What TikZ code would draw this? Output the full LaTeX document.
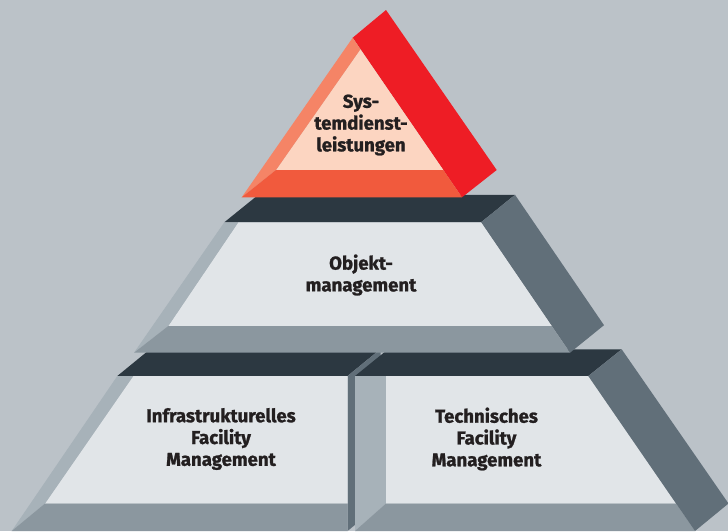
\documentclass[tikz,border=0pt]{standalone}
\usepackage{fontspec}
\setmainfont{Fira Sans}[BoldFeatures={FakeBold=1.2}]
\definecolor{bgc}{HTML}{BBC2C8}
\definecolor{facec}{HTML}{E1E5E8}
\definecolor{lbev}{HTML}{A7B2B9}
\definecolor{bbev}{HTML}{8B979F}
\definecolor{topc}{HTML}{2C3841}
\definecolor{sidec}{HTML}{616F79}
\definecolor{redc}{HTML}{EE1D25}
\definecolor{salmon}{HTML}{F58466}
\definecolor{orangec}{HTML}{F15A3D}
\definecolor{peach}{HTML}{FCD5C1}
\definecolor{txtc}{HTML}{231F20}
\tikzset{
  lbl/.style={align=center, text=txtc, font=\fontsize{18.6}{21.8}\selectfont\bfseries, inner sep=0pt},
}
\begin{document}
\begin{tikzpicture}[x=1pt,y=-1pt]
\fill[bgc] (0,0) rectangle (728,531);
\useasboundingbox (0,0) rectangle (728,531);
\begin{scope}
\clip (0,0) rectangle (728,531);
% bottom-left block
\fill[topc] (117.3,376) -- (347.5,376) -- (380.5,349) -- (150.3,349) -- cycle;
\fill[sidec] (347.5,376) -- (380.5,349) -- (380.5,504) -- (347.5,531) -- cycle;
\fill[facec] (133.3,376) -- (347.5,376) -- (347.5,503.5) -- (45,503.5) -- cycle;
\fill[lbev] (117.3,376) -- (133.3,376) -- (45,503.5) -- (11.7,531) -- cycle;
\fill[bbev] (45,503.5) -- (347.5,503.5) -- (347.5,531) -- (11.7,531) -- cycle;
% bottom-right block
\fill[topc] (355,376) -- (588.3,376) -- (621.7,349.3) -- (388,349.3) -- cycle;
\fill[lbev] (355,376) -- (386,376) -- (386,503.5) -- (355,531) -- cycle;
\fill[facec] (386,376) -- (588.3,376) -- (676,503.5) -- (386,503.5) -- cycle;
\fill[bbev] (386,503.5) -- (676,503.5) -- (695,531) -- (355,531) -- cycle;
\fill[sidec] (588.3,376) -- (621.7,349.3) -- (728.5,503.5) -- (695,531) -- cycle;
% middle block
\fill[topc] (224.3,222.3) -- (481,222.3) -- (515,194.8) -- (258.3,194.8) -- cycle;
\fill[sidec] (481,222.3) -- (515,194.8) -- (604,325.2) -- (570,352.7) -- cycle;
\fill[facec] (238.3,222.3) -- (481,222.3) -- (551.7,326) -- (168.3,326) -- cycle;
\fill[lbev] (224.3,222.3) -- (238.3,222.3) -- (168.3,326) -- (134,352.7) -- cycle;
\fill[bbev] (168.3,326) -- (551.7,326) -- (570,352.7) -- (134,352.7) -- cycle;
% top triangle
\fill[redc] (352.7,37.7) -- (386,10) -- (496.7,170) -- (462,197.3) -- cycle;
\fill[peach] (360.4,49.3) -- (443.3,170) -- (276,170) -- cycle;
\fill[salmon] (352.7,37.7) -- (360.4,49.3) -- (276,170) -- (241.7,197.3) -- cycle;
\fill[orangec] (276,170) -- (443.3,170) -- (462,197.3) -- (241.7,197.3) -- cycle;
\end{scope}
% labels
\node[lbl] (sys) at (361,125) {Sys-\\temdienst-\\leistungen};
\node[lbl] (obj) at (361,275) {Objekt-\\management};
\node[lbl] (ifm) at (221,439) {Infrastrukturelles\\Facility\\Management};
\node[lbl] (tfm) at (486.5,439) {Technisches\\Facility\\Management};
\end{tikzpicture}
\end{document}
